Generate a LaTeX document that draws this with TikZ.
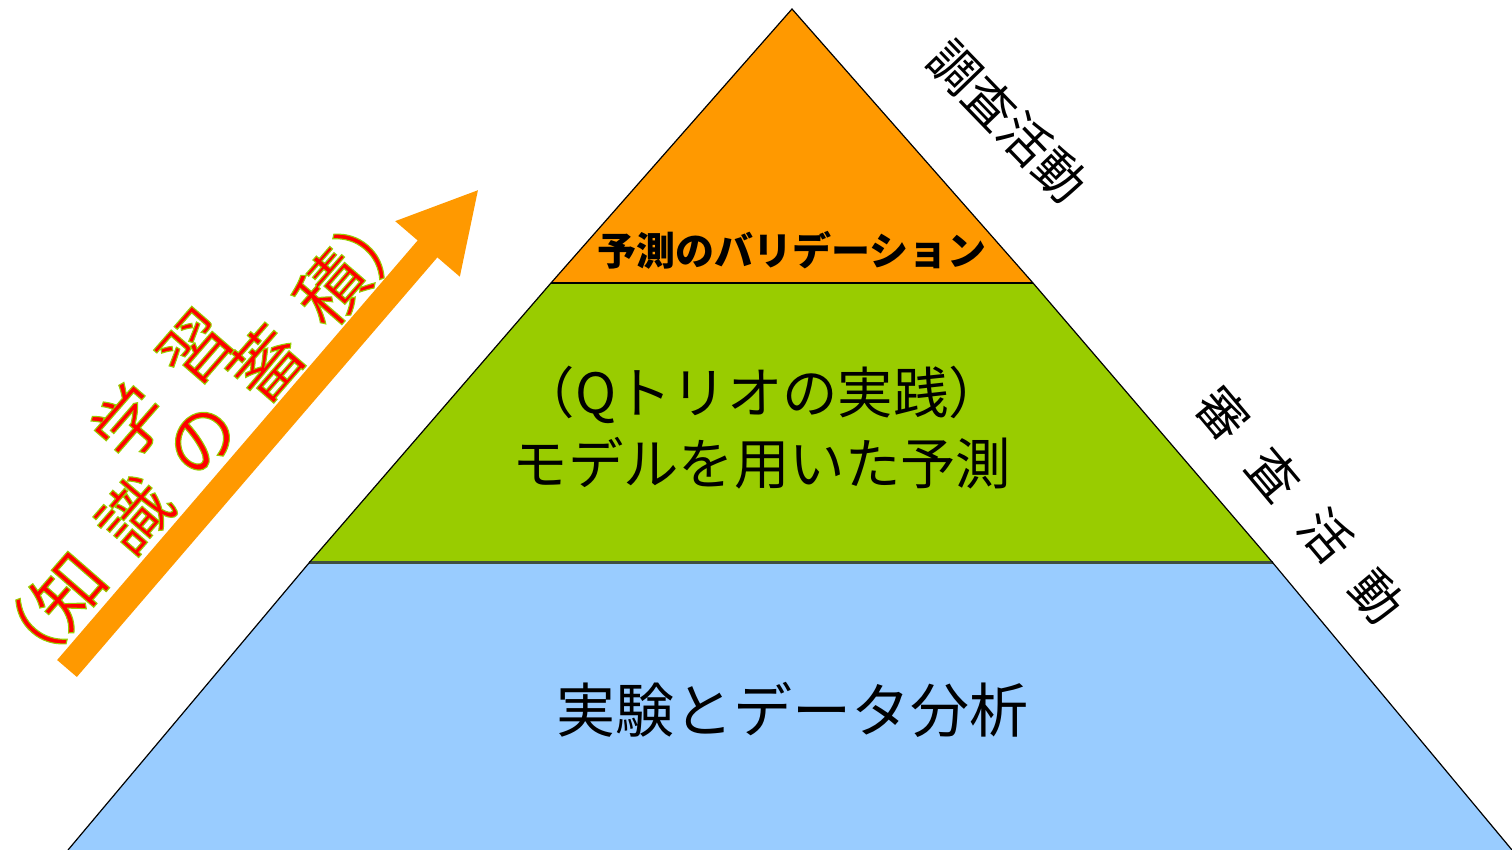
\documentclass[tikz,border=0pt]{standalone}
\usepackage{fontspec}
\newfontfamily\cjk{Noto Sans CJK JP}
\usetikzlibrary{arrows.meta}
\definecolor{toporange}{HTML}{FF9900}
\definecolor{midgreen}{HTML}{99CC00}
\definecolor{botblue}{HTML}{99CCFF}
\definecolor{sepgray}{HTML}{3F4F3F}
\newcommand\outlinedtext[1]{{\color{red}\special{pdf:literal 2 Tr 0.55 w 0.6 0.8 0 RG}#1\special{pdf:literal 0 Tr}}}
\tikzset{
  sidetext/.style={inner sep=0pt, font=\cjk\fontsize{25pt}{30pt}\selectfont},
  learntext/.style={inner sep=0pt, rotate=49, font=\cjk\fontsize{35pt}{40pt}\selectfont},
}
\begin{document}
\begin{tikzpicture}[x=0.5pt,y=-0.5pt]
\useasboundingbox (0,0) rectangle (1512,850);
\clip (0,0) rectangle (1512,850);
% pyramid corners
\coordinate (apex) at (792,9);
\coordinate (tl) at (551,283);
\coordinate (tr) at (1033,283);
\coordinate (ml) at (309,563);
\coordinate (mr) at (1273,563);
\coordinate (bl) at (68,850);
\coordinate (br) at (1512,850);
\fill[toporange] (apex) -- (tr) -- (tl) -- cycle;
\fill[midgreen] (tl) -- (tr) -- (mr) -- (ml) -- cycle;
\fill[botblue] (ml) -- (mr) -- (br) -- (bl) -- cycle;
\draw[black, line width=1pt] (tl) -- (tr);
\draw[sepgray, line width=1.5pt] (ml) -- (mr);
\draw[black, line width=0.6pt] (bl) -- (ml) -- (tl) -- (apex) -- (tr) -- (mr) -- (br);
% band texts
\node[inner sep=0pt, font=\cjk\bfseries\fontsize{19.5pt}{23pt}\selectfont] (topt) at (792,250) {予測のバリデーション};
\node[inner sep=0pt, align=center, font=\cjk\fontsize{27.7pt}{35.5pt}\selectfont] (midt) at (762,428) {（Qトリオの実践）\\モデルを用いた予測};
\node[inner sep=0pt, font=\cjk\fontsize{29.5pt}{35pt}\selectfont] (bott) at (792,710) {実験とデータ分析};
% side labels
\node[sidetext, rotate=-46] (survey) at (1008,121) {調査活動};
\node[sidetext, rotate=-50] (review) at (1300,505) {審\hspace{15pt}査\hspace{15pt}活\hspace{15pt}動};
% learning arrow
\coordinate (atail) at (67,668.5);
\coordinate (ahead) at (479,189);
\draw[toporange, line width=13pt, -{Triangle[width=39.5pt,length=39.5pt]}] (atail) -- (ahead);
\node[learntext] (learn1) at (162,384) {\outlinedtext{学\hspace{15pt}習}};
\node[learntext] (learn2) at (200,439) {\outlinedtext{（知\hspace{15pt}識\hspace{15pt}の\hspace{15pt}蓄\hspace{15pt}積）}};
\end{tikzpicture}
\end{document}
